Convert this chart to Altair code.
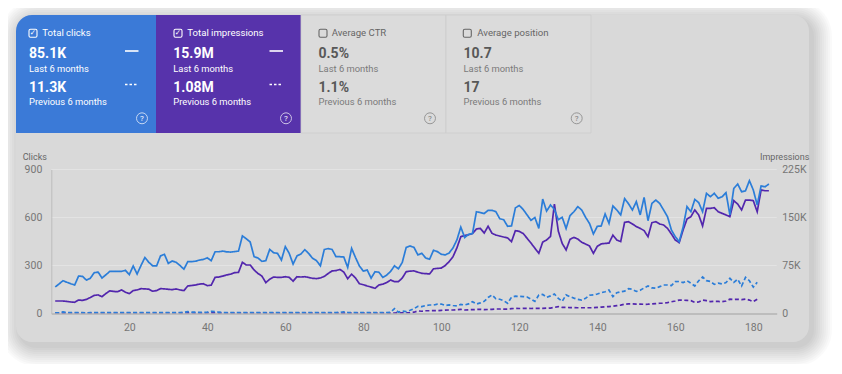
import altair as alt
import pandas as pd

# ------------------------------------------------------------------ data
clicks_last = [
    166, 185, 205, 195, 186, 178, 234, 232, 209, 220,
    255, 259, 222, 242, 263, 263, 263, 263, 270, 243,
    297, 247, 300, 350, 320, 298, 297, 360, 370, 313,
    328, 320, 300, 277, 324, 324, 327, 334, 338, 348,
    330, 386, 386, 390, 385, 384, 387, 390, 485, 467,
    447, 355, 347, 326, 330, 401, 380, 376, 334, 418,
    376, 309, 360, 372, 399, 375, 345, 330, 298, 400,
    406, 400, 355, 355, 353, 288, 407, 350, 297, 265,
    272, 221, 261, 258, 226, 240, 263, 298, 279, 320,
    413, 422, 413, 366, 376, 347, 339, 395, 387, 370,
    366, 378, 410, 460, 540, 475, 495, 500, 636, 631,
    625, 645, 645, 636, 592, 586, 545, 547, 660, 675,
    650, 616, 582, 600, 532, 715, 640, 678, 651, 586,
    601, 531, 612, 636, 668, 647, 601, 563, 497, 545,
    547, 622, 563, 672, 647, 616, 718, 686, 647, 699,
    616, 726, 580, 688, 709, 688, 647, 605, 522, 480,
    449, 540, 668, 636, 713, 693, 636, 751, 730, 751,
    720, 730, 755, 616, 782, 809, 761, 767, 830, 772,
    678, 797, 792, 809,
]
clicks_prev = [
    4, 6, 10, 6, 5, 5, 6, 5, 4, 5,
    5, 6, 5, 5, 6, 5, 5, 6, 5, 5,
    5, 6, 5, 5, 6, 5, 5, 5, 6, 5,
    5, 5, 6, 7, 12, 9, 8, 7, 7, 9,
    13, 12, 8, 6, 5, 5, 5, 5, 6, 5,
    5, 5, 6, 5, 5, 6, 5, 5, 5, 6,
    5, 5, 6, 5, 5, 5, 5, 6, 5, 5,
    5, 5, 6, 7, 11, 6, 5, 5, 5, 6,
    5, 5, 5, 5, 6, 6, 8,
    30, 8, 15, 12, 20, 30, 45, 43, 50, 53,
    53, 58, 59, 50, 54, 50, 48, 57, 53, 60,
    74, 59, 66, 76, 100, 116, 92, 89, 80, 64,
    102, 108, 107, 106, 103, 90, 76, 115, 120, 101,
    110, 122, 95, 76, 116, 105, 96, 88, 84, 95,
    114, 116, 122, 130, 136, 147, 105, 130, 136, 140,
    155, 151, 138, 145, 160, 172, 160, 158, 168, 178,
    178, 174, 199, 200, 193, 205, 189, 172, 205, 228,
    205, 200, 182, 190, 185, 193, 220, 195, 214, 172,
    226, 205, 165, 195,
]
# impressions in thousands
impr_last_k = [
    19.5, 19.5, 19.5, 18.8, 18, 17.5, 21, 20.5, 22, 25,
    28.3, 29, 26.3, 31.3, 35.3, 34.5, 34, 36.8, 33.3, 31,
    35.8, 36.8, 38.8, 38.5, 38, 34.8, 35.8, 38.8, 38.5, 37.8,
    37.3, 38.3, 36.8, 35.8, 43, 43.8, 44.5, 46, 46.5, 43.5,
    44.3, 56.5, 57, 58.5, 60.3, 61.5, 63.8, 64.3, 80, 75.8,
    75.8, 68, 62.5, 58.5, 48.3, 53.5, 57, 56.5, 56.5, 57.5,
    56.5, 50.5, 57.5, 57, 57.5, 56.3, 55, 54.5, 55.5, 58,
    62.5, 66.5, 67, 68.8, 64.8, 54.3, 61.5, 55.5, 46.5, 45,
    43, 41.3, 39.3, 44.5, 45.8, 48.3, 52.3, 49.8, 49.8, 55.5,
    65.3, 66.3, 66.5, 64.5, 62.8, 62.3, 61.8, 69.8, 70.5, 71,
    75, 81, 88.8, 102.5, 120, 121.8, 123, 125, 132, 133,
    125.8, 136.3, 125.3, 122.5, 121, 119.5, 118, 112.3, 129.5, 128.3,
    125, 117.5, 110, 102, 94, 111.5, 114.8, 120.5, 171, 128.8,
    109.5, 99.3, 115.8, 119, 116.3, 111.3, 108.5, 105.5, 94, 105,
    108.8, 109.5, 110, 122.5, 114.8, 112.3, 142.5, 143.5, 140, 135.8,
    133, 129.5, 120, 142, 143.5, 139.8, 138.3, 133, 124.3, 114.8,
    110.8, 130.5, 147.5, 151.3, 161.8, 154, 136.8, 164.3, 164.3, 165.3,
    159, 156.5, 154, 151.3, 176.3, 171, 161.8, 177.3, 177.3, 176.3,
    159, 193, 191.8, 191.8,
]
impr_prev_k = [
    0.6, 0.5, 0.7, 0.6, 0.5, 0.5, 0.6, 0.5, 0.5, 0.6,
    0.5, 0.6, 0.5, 0.5, 0.6, 0.5, 0.5, 0.6, 0.5, 0.5,
    0.6, 0.5, 0.5, 0.6, 0.5, 0.5, 0.5, 0.6, 0.5, 0.5,
    0.6, 0.5, 0.6, 0.7, 0.9, 0.8, 0.7, 0.7, 0.7, 0.8,
    1.0, 0.9, 0.7, 0.6, 0.5, 0.5, 0.5, 0.5, 0.6, 0.5,
    0.5, 0.5, 0.6, 0.5, 0.5, 0.6, 0.5, 0.5, 0.5, 0.6,
    0.5, 0.5, 0.6, 0.5, 0.5, 0.5, 0.5, 0.6, 0.5, 0.5,
    0.5, 0.5, 0.6, 0.6, 0.8, 0.6, 0.5, 0.5, 0.5, 0.6,
    0.5, 0.5, 0.5, 0.5, 0.6, 0.6, 0.7, 0.8, 0.9, 1.0,
    1.2, 1.5,
    2, 4, 3.5, 4.3, 4.3, 4.5, 4.5, 5, 5.3, 5.5,
    5.5, 6, 6.5, 5.5, 5.8, 6, 6.3, 6.5, 6, 6.3,
    6.5, 7, 7, 6.8, 7, 7.5, 8, 7.8, 8, 8,
    7.8, 8, 8, 8, 8.3, 8.5, 9.5, 10.8, 9.5, 9.5,
    9.3, 9.3, 9, 9, 9, 9, 9, 9.5, 10, 10.5,
    10.8, 11.3, 12.3, 13, 14.5, 15, 15, 14.8, 14.8, 14.3,
    14.5, 15, 15.5, 16, 16, 17, 18.3, 19.5, 21, 20.8,
    20.5, 20, 17.5, 18, 21, 20, 18.5, 19, 18.8, 18.5,
    19.5, 22.3, 22, 22.3, 21.8, 22.5, 21, 18.5, 22.3,
]
x_ticks = [20, 40, 60, 80, 100, 120, 140, 160, 180]
clicks_ticks = [0, 300, 600, 900]
impr_ticks = [0, 75, 150, 225]
periods = ["Last 6 months", "Previous 6 months"]

metric_titles = ["Total clicks", "Total impressions", "Average CTR", "Average position"]
metric_last = ["85.1K", "15.9M", "0.5%", "10.7"]
metric_prev = ["11.3K", "1.08M", "1.1%", "17"]
metric_checked = [True, True, False, False]

# ------------------------------------------------------------------ style
BLUE_BOX = "#3b7ad7"
PURPLE_BOX = "#5733ab"
LINE_BLUE = "#2b7dd8"
LINE_PURPLE = "#5226ad"
CARD = "#d9d9d9"
BOX_GRAY = "#dbdbdb"
FONT = "Roboto"

OX, OY = 51.3, 169.5          # page position of plot-area top-left
W, H = 725.4, 144.0           # plot area
PAD = {"left": OX - 8, "top": OY - 8, "right": 826 - (OX - 8) - W, "bottom": 356 - (OY - 8) - H}

one = alt.Data(values=[{"a": 1}])


def rx(px):
    return px - OX


def ry(py):
    return py - OY


def rect(x0, x1, y0, y1, **kw):
    return alt.Chart(one).mark_rect(**kw).encode(
        x=alt.value(rx(x0)), x2=alt.value(rx(x1)), y=alt.value(ry(y0)), y2=alt.value(ry(y1))
    )


def text(px, py, s, size=10.5, weight="normal", color="white", align="left", font=FONT):
    return alt.Chart(one).mark_text(
        text=s, align=align, baseline="middle", font=font, fontSize=size,
        fontWeight=weight, color=color
    ).encode(x=alt.value(rx(px)), y=alt.value(ry(py)))


def hline(x0, x1, y, color, width=1.5, dash=None):
    kw = dict(color=color, strokeWidth=width)
    if dash:
        kw["strokeDash"] = dash
    return alt.Chart(one).mark_rule(**kw).encode(
        x=alt.value(rx(x0)), x2=alt.value(rx(x1)), y=alt.value(ry(y))
    )


layers = []

# soft shadow + card
cx0, cx1, cy0, cy1 = 16, 809, 15, 342
for k in range(1, 11):
    e = k * 2.0
    layers.append(rect(cx0 - e + 4, cx1 + e + 3, cy0 - e + 5, cy1 + e + 4,
                       color="black", opacity=0.018, cornerRadius=16 + e))
layers.append(rect(cx0, cx1, cy0, cy1, color=CARD, cornerRadius=16))

# metric boxes
box_edges = [16, 156, 301, 446, 591]
box_fill = [BLUE_BOX, PURPLE_BOX, BOX_GRAY, BOX_GRAY]
for i in range(4):
    kw = dict(color=box_fill[i])
    if i == 0:
        kw["cornerRadiusTopLeft"] = 16
    if i >= 2:
        kw["stroke"] = "#cdcdcd"
        kw["strokeWidth"] = 0.8
    layers.append(rect(box_edges[i], box_edges[i + 1], 15, 133, **kw))

text_left = [29, 173.3, 318.5, 463.5]
check_left = [29, 174, 319, 463.3]
title_left = [42.3, 187.3, 331.7, 477.3]
legend_x = [125, 269.5]
help_x = [142, 286, 430, 576.7]
for i in range(4):
    on = metric_checked[i]
    tcol = "white" if on else "#666666"
    ncol = "white" if on else "#585858"
    scol = "white" if on else "#7a7a7a"
    layers.append(rect(check_left[i], check_left[i] + 8, 29.2, 37.2,
                       filled=False, stroke=tcol, strokeWidth=1.1, cornerRadius=1.5))
    if on:
        layers.append(text(check_left[i] + 4, 33.4, "✓", size=7.5, color="white",
                           align="center", font="DejaVu Sans"))
    layers.append(text(title_left[i], 33.4, metric_titles[i], size=9.6, color=tcol))
    layers.append(text(text_left[i], 53.6, metric_last[i], size=14, weight="bold", color=ncol))
    layers.append(text(text_left[i], 68.6, periods[0], size=9.4, color=scol))
    layers.append(text(text_left[i], 88.4, metric_prev[i], size=14, weight="bold", color=ncol))
    layers.append(text(text_left[i], 101.8, periods[1], size=9.4, color=scol))
    layers.append(alt.Chart(one).mark_point(
        shape="circle", size=120, filled=False, color=scol, strokeWidth=1
    ).encode(x=alt.value(rx(help_x[i])), y=alt.value(ry(118.3))))
    layers.append(text(help_x[i], 118.7, "?", size=8, color=scol, align="center"))
    if on:
        layers.append(hline(legend_x[i], legend_x[i] + 13.5, 51, "white", 1.6))
        layers.append(hline(legend_x[i], legend_x[i] + 13.5, 84.5, "white", 1.4, [2.5, 2]))

# axis titles
layers.append(text(22.7, 156.7, "Clicks", size=9, color="#666666"))
layers.append(text(760, 156.7, "Impressions", size=9, color="#666666"))

# ------------------------------------------------------------------ chart data
df_clicks = pd.DataFrame({
    "day": list(range(1, len(clicks_last) + 1)) + list(range(1, len(clicks_prev) + 1)),
    "clicks": clicks_last + clicks_prev,
    "period": [periods[0]] * len(clicks_last) + [periods[1]] * len(clicks_prev),
})
df_impr = pd.DataFrame({
    "day": list(range(1, len(impr_last_k) + 1)) + list(range(1, len(impr_prev_k) + 1)),
    "impr": impr_last_k + impr_prev_k,
    "period": [periods[0]] * len(impr_last_k) + [periods[1]] * len(impr_prev_k),
})

x_scale = alt.Scale(domain=[0, 186], nice=False, zero=False)
x_axis = alt.Axis(values=x_ticks, title=None, grid=False, ticks=False, domain=True,
                  domainColor="#b3b3b3", domainWidth=1.5, labelColor="#767676",
                  labelFontSize=10.5, labelFont=FONT, labelPadding=9, zindex=1)
dash_scale = alt.Scale(domain=periods, range=[[1, 0], [4, 2.5]])

grid = alt.Chart(pd.DataFrame({"v": clicks_ticks[1:]})).mark_rule(
    color="#e3e3e3", strokeWidth=1
).encode(
    y=alt.Y("v:Q", scale=alt.Scale(domain=[0, 900], nice=False), axis=None),
    x=alt.value(0), x2=alt.value(W),
)
layers.append(grid)

impr_layer = alt.Chart(df_impr).mark_line(color=LINE_PURPLE, strokeWidth=1.7).encode(
    x=alt.X("day:Q", scale=x_scale, axis=x_axis),
    y=alt.Y("impr:Q", scale=alt.Scale(domain=[0, 225], nice=False),
            axis=alt.Axis(values=impr_ticks, orient="right", title=None, grid=False,
                          ticks=False, domain=False, labelPadding=5,
                          labelColor="#767676", labelFontSize=10.5, labelFont=FONT,
                          labelExpr="datum.value == 0 ? '0' : datum.value + 'K'",
                          zindex=1)),
    strokeDash=alt.StrokeDash("period:N", scale=dash_scale, legend=None),
    detail="period:N",
)
clicks_layer = alt.Chart(df_clicks).mark_line(color=LINE_BLUE, strokeWidth=1.7).encode(
    x=alt.X("day:Q", scale=x_scale, axis=x_axis),
    y=alt.Y("clicks:Q", scale=alt.Scale(domain=[0, 900], nice=False),
            axis=alt.Axis(values=clicks_ticks, orient="left", title=None, grid=False,
                          ticks=False, domain=True, domainColor="#bdbdbd",
                          labelPadding=9.5, labelColor="#767676", labelFontSize=10.5,
                          labelFont=FONT, zindex=1)),
    strokeDash=alt.StrokeDash("period:N", scale=dash_scale, legend=None),
    detail="period:N",
)
layers.append(impr_layer)
layers.append(clicks_layer)

chart = alt.layer(*layers).resolve_scale(y="independent", strokeDash="shared").properties(
    width=W, height=H,
    autosize=alt.AutoSizeParams(type="none"),
    padding=PAD,
    background="white",
).configure_view(stroke=None)

chart.save("out.html", embed_options={"renderer": "svg", "actions": False})
